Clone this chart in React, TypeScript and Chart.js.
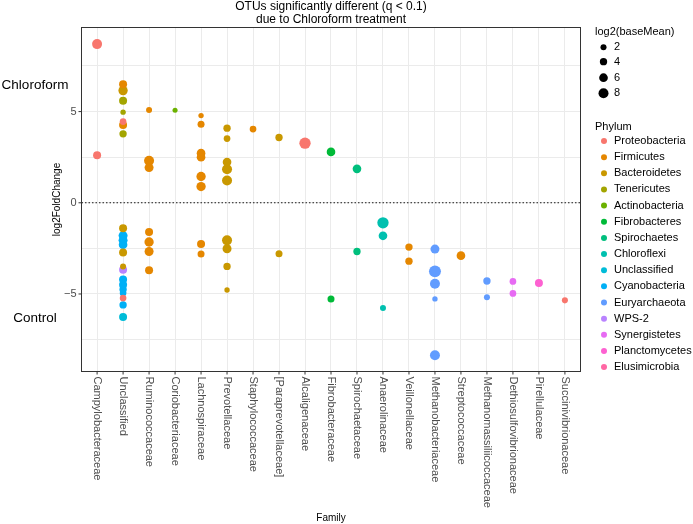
import React, { useEffect, useRef } from "react";
import { Chart, registerables } from "chart.js";

Chart.register(...registerables);

const FONT = '"Liberation Sans", Arial, Helvetica, sans-serif';

const chartTitle = ["OTUs significantly different (q < 0.1)", "due to Chloroform treatment"];
const xTitle = "Family";
const yTitle = "log2FoldChange";
const groupLabels = ["Chloroform", "Control"];

const families = [
  "Campylobacteraceae",
  "Unclassified",
  "Ruminococcaceae",
  "Coriobacteriaceae",
  "Lachnospiraceae",
  "Prevotellaceae",
  "Staphylococcaceae",
  "[Paraprevotellaceae]",
  "Alcaligenaceae",
  "Fibrobacteraceae",
  "Spirochaetaceae",
  "Anaerolinaceae",
  "Veillonellaceae",
  "Methanobacteriaceae",
  "Streptococcaceae",
  "Methanomassiliicoccaceae",
  "Dethiosulfovibrionaceae",
  "Pirellulaceae",
  "Succinivibrionaceae",
];

const phyla = [
  "Proteobacteria",
  "Firmicutes",
  "Bacteroidetes",
  "Tenericutes",
  "Actinobacteria",
  "Fibrobacteres",
  "Spirochaetes",
  "Chloroflexi",
  "Unclassified",
  "Cyanobacteria",
  "Euryarchaeota",
  "WPS-2",
  "Synergistetes",
  "Planctomycetes",
  "Elusimicrobia",
];

const phylumColors = [
  "#F8766D", "#E58700", "#C99800", "#A3A500", "#6BB100",
  "#00BA38", "#00BF7D", "#00C0AF", "#00BCD8", "#00B0F6",
  "#619CFF", "#B983FF", "#E76BF3", "#FD61D1", "#FF67A4",
];

const sizeBreaks = [2, 4, 6, 8];
const yTickValues = [-5, 0, 5];

// one entry per OTU: family index, log2FoldChange, log2(baseMean), phylum index
const pointFamily = [
  0, 0,
  1, 1, 1, 1, 1, 1, 1,
  1, 1, 1, 1, 1, 1, 1, 1, 1, 1, 1, 1, 1, 1, 1,
  2, 2, 2, 2, 2, 2, 2,
  3,
  4, 4, 4, 4, 4, 4, 4, 4,
  5, 5, 5, 5, 5, 5, 5, 5, 5,
  6,
  7, 7,
  8,
  9, 9,
  10, 10,
  11, 11, 11,
  12, 12,
  13, 13, 13, 13, 13,
  14,
  15, 15,
  16, 16,
  17,
  18,
];
const pointLFC = [
  8.7, 2.6,
  6.5, 6.15, 5.6, 4.97, 4.45, 4.27, 3.78,
  -1.39, -1.8, -2.06, -2.3, -2.72, -3.49, -3.67, -4.2, -4.5, -4.75, -4.9, -4.95, -5.22, -5.6, -6.26,
  5.09, 2.3, 1.93, -1.6, -2.15, -2.67, -3.7,
  5.07,
  4.78, 4.3, 2.72, 2.5, 1.44, 0.89, -2.26, -2.81,
  4.09, 3.52, 2.23, 1.84, 1.22, -2.06, -2.52, -3.49, -4.78,
  4.04,
  3.58, -2.79,
  3.27,
  2.79, -5.27,
  1.86, -2.67,
  -1.1, -1.81, -5.77,
  -2.43, -3.2,
  -2.54, -3.76, -4.44, -5.27, -8.36,
  -2.9,
  -4.29, -5.18,
  -4.31, -4.97,
  -4.4,
  -5.35,
];
const pointBaseMean = [
  8, 5,
  5, 7, 5, 1, 3, 5, 4,
  5, 6.5, 6.5, 6, 5, 2, 5, 5, 5, 4, 2, 3, 3, 4, 5,
  2, 8, 6.5, 5, 7, 6.5, 5,
  0.5,
  1, 3.5, 6, 6, 7, 7, 5, 3.5,
  4, 3, 6, 8, 8, 8, 6.5, 4, 1,
  3,
  4, 3.5,
  10,
  6, 3.5,
  6, 4,
  10, 6, 2,
  4, 4,
  6.5, 11, 8, 1, 8,
  6,
  4, 2,
  3, 3,
  5,
  2,
];
const pointPhylum = [
  0, 0,
  1, 2, 3, 3, 0, 1, 3,
  2, 9, 9, 9, 2, 2, 11, 9, 9, 9, 14, 9, 0, 9, 8,
  1, 1, 1, 1, 1, 1, 1,
  4,
  1, 1, 1, 1, 1, 1, 1, 1,
  2, 2, 2, 2, 2, 2, 2, 2, 2,
  1,
  2, 2,
  0,
  5, 5,
  6, 6,
  7, 7, 7,
  1, 1,
  10, 10, 10, 10, 10,
  1,
  10, 10,
  12, 12,
  13,
  0,
];

const radiusFor = (v: number) => 2.35 + 0.33 * v;

const overlayPlugin = {
  id: "overlay",
  beforeDatasetsDraw(chart: any) {
    const { ctx, chartArea: a, scales } = chart;
    const y0 = scales.y.getPixelForValue(0);
    ctx.save();
    ctx.strokeStyle = "#1a1a1a";
    ctx.lineWidth = 1.1;
    ctx.setLineDash([1.5, 2]);
    ctx.beginPath();
    ctx.moveTo(a.left, y0);
    ctx.lineTo(a.right, y0);
    ctx.stroke();
    ctx.restore();
  },
  afterDraw(chart: any) {
    const { ctx, chartArea: a, scales } = chart;
    const xs = scales.x;
    const ys = scales.y;
    ctx.save();
    // panel border
    ctx.strokeStyle = "#333333";
    ctx.lineWidth = 1;
    ctx.strokeRect(a.left, a.top, a.right - a.left, a.bottom - a.top);

    // y ticks
    ctx.font = `11px ${FONT}`;
    ctx.fillStyle = "#4D4D4D";
    ctx.textAlign = "right";
    ctx.textBaseline = "middle";
    yTickValues.forEach((v) => {
      const py = ys.getPixelForValue(v);
      ctx.beginPath();
      ctx.moveTo(a.left - 3, py);
      ctx.lineTo(a.left, py);
      ctx.stroke();
      ctx.fillText(v < 0 ? "\u2212" + Math.abs(v) : String(v), a.left - 5, py);
    });

    // x ticks and rotated labels
    families.forEach((f, i) => {
      const px = xs.getPixelForValue(i);
      ctx.beginPath();
      ctx.moveTo(px, a.bottom);
      ctx.lineTo(px, a.bottom + 3);
      ctx.stroke();
      ctx.save();
      ctx.translate(px, a.bottom + 5);
      ctx.rotate(Math.PI / 2);
      ctx.textAlign = "left";
      ctx.textBaseline = "middle";
      ctx.fillText(f, 0, 0);
      ctx.restore();
    });

    // axis titles
    ctx.fillStyle = "#000000";
    ctx.font = `10px ${FONT}`;
    ctx.textAlign = "center";
    ctx.textBaseline = "middle";
    ctx.fillText(xTitle, (a.left + a.right) / 2, 518);
    ctx.save();
    ctx.translate(57, (a.top + a.bottom) / 2);
    ctx.rotate(-Math.PI / 2);
    ctx.fillText(yTitle, 0, 0);
    ctx.restore();

    // chart title
    ctx.font = `12px ${FONT}`;
    ctx.fillText(chartTitle[0], (a.left + a.right) / 2, 7);
    ctx.fillText(chartTitle[1], (a.left + a.right) / 2, 20);

    // group labels
    ctx.font = `13.5px ${FONT}`;
    ctx.fillText(groupLabels[0], 35, 85);
    ctx.fillText(groupLabels[1], 35, 318);

    // size legend
    ctx.textAlign = "left";
    ctx.font = `11px ${FONT}`;
    ctx.fillText("log2(baseMean)", 595, 32);
    const sizeY = [47.3, 61.7, 77.7, 93.3];
    sizeBreaks.forEach((s, i) => {
      ctx.fillStyle = "#000000";
      ctx.beginPath();
      ctx.arc(603.5, sizeY[i], radiusFor(s), 0, Math.PI * 2);
      ctx.fill();
      ctx.fillText(String(s), 614, sizeY[i]);
    });

    // phylum legend
    ctx.fillText("Phylum", 595, 126.5);
    phyla.forEach((p, i) => {
      const py = 141 + i * 16.15;
      ctx.fillStyle = phylumColors[i];
      ctx.beginPath();
      ctx.arc(604, py, 3, 0, Math.PI * 2);
      ctx.fill();
      ctx.fillStyle = "#000000";
      ctx.fillText(p, 614, py);
    });
    ctx.restore();
  },
};

export default function App() {
  const canvasRef = useRef<HTMLCanvasElement | null>(null);

  useEffect(() => {
    if (!canvasRef.current) return;
    const datasets = phyla.map((p, pi) => {
      const data: any[] = [];
      pointPhylum.forEach((ph, k) => {
        if (ph === pi) {
          data.push({ x: pointFamily[k], y: pointLFC[k], r: radiusFor(pointBaseMean[k]) });
        }
      });
      return {
        label: p,
        data,
        backgroundColor: phylumColors[pi],
        borderWidth: 0,
        hoverBorderWidth: 0,
      };
    });

    const chart = new Chart(canvasRef.current, {
      type: "bubble",
      data: { datasets },
      options: {
        animation: false,
        responsive: false,
        devicePixelRatio: 1,
        layout: { padding: { left: 81.5, right: 112.5, top: 27.5, bottom: 152.5 } },
        plugins: {
          legend: { display: false },
          tooltip: { enabled: false },
          title: { display: false },
        },
        events: [],
        scales: {
          x: {
            type: "linear",
            min: -0.6,
            max: 18.6,
            ticks: { display: false, stepSize: 1, includeBounds: false },
            grid: { color: "#EBEBEB", lineWidth: 1, drawTicks: false },
            border: { display: false },
          },
          y: {
            type: "linear",
            min: -9.25,
            max: 9.61,
            ticks: { display: false, stepSize: 2.5, includeBounds: false },
            grid: { color: "#EBEBEB", lineWidth: 1, drawTicks: false },
            border: { display: false },
          },
        },
      },
      plugins: [overlayPlugin],
    } as any);
    return () => chart.destroy();
  }, []);

  return (
    <div style={{ position: "fixed", left: 0, top: 0, width: 693, height: 524, background: "#ffffff" }}>
      <canvas ref={canvasRef} width={693} height={524} style={{ display: "block" }} />
    </div>
  );
}
